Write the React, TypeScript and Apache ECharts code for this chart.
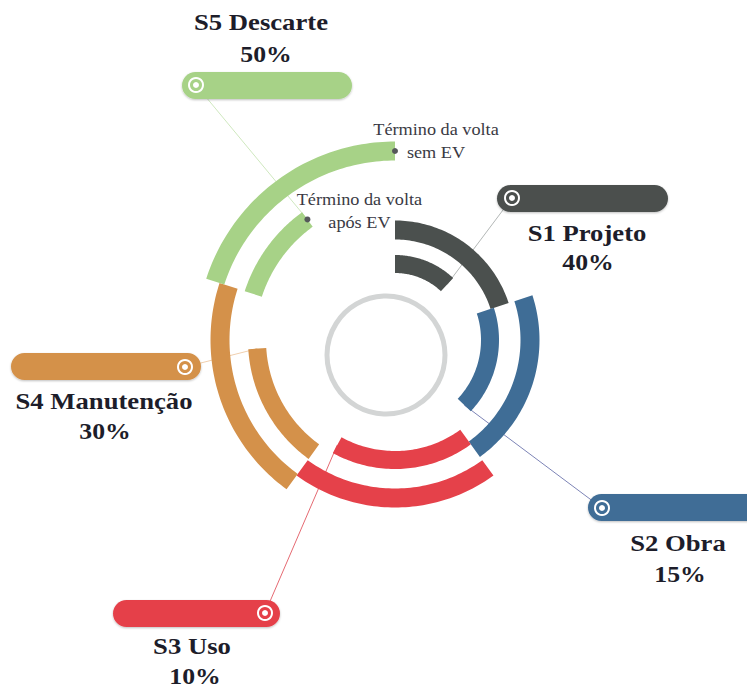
import React, { useEffect, useRef } from 'react';
import * as echarts from 'echarts';

// ---- data ----
const stages = ['S1 Projeto', 'S2 Obra', 'S3 Uso', 'S4 Manutenção', 'S5 Descarte'];
const reductions = [40, 15, 10, 30, 50]; // % reduction after EV
const stageColors = ['#4b504e', '#3f6d96', '#e5414a', '#d4914a', '#a7d287'];
const lineColors = ['#b3b7b6', '#7d84b6', '#e56a72', '#f0cfae', '#cfe8bf'];
const ringSemEV = [110, 135, 158, 175, 189]; // radial level of each stage (full turn, without EV)
const ringAposEV = [76, 95, 120, 138, 149]; // radial level of each stage (after EV)
const stageSweep = [72, 72, 72, 72, 72]; // degrees per stage in a full turn

// ---- layout (pixels) ----
const CENTER: [number, number] = [395, 340];
const pills = [
  { x: 497, y: 185, w: 171, icon: [512, 198], name: [587, 233], pct: [588, 262] },
  { x: 588, y: 494, w: 175, icon: [602, 508], name: [678, 543], pct: [680, 574] },
  { x: 113, y: 600, w: 167, icon: [265, 613], name: [192, 646], pct: [195, 676] },
  { x: 11, y: 353, w: 190, icon: [185, 367], name: [104, 401], pct: [105, 431] },
  { x: 182, y: 72, w: 170, icon: [196, 85], name: [261, 22], pct: [266, 54] },
];
const SERIF = '"Liberation Serif", "DejaVu Serif", serif';

export default function App() {
  const ref = useRef<HTMLDivElement>(null);
  useEffect(() => {
    if (!ref.current) return;
    const chart = echarts.init(ref.current, null, { renderer: 'svg' });

    const starts: number[] = [];
    let acc = 0;
    stageSweep.forEach((s) => { starts.push(acc); acc += s; });

    const outerData = stages.map((_, i) => [ringSemEV[i], starts[i], starts[i] + stageSweep[i], i]);
    const innerData = stages.map((_, i) => [
      ringAposEV[i], starts[i], starts[i] + stageSweep[i] * (1 - reductions[i] / 100), i,
    ]);

    const arcRender = (thick: number) => (params: any, api: any) => {
      const r = api.value(0);
      const a0 = api.value(1);
      const a1 = api.value(2);
      const idx = api.value(3);
      const h = thick / 2;
      const N = 60;
      const pts: number[][] = [];
      for (let k = 0; k <= N; k++) pts.push(api.coord([r + h, a0 + ((a1 - a0) * k) / N]));
      for (let k = N; k >= 0; k--) pts.push(api.coord([r - h, a0 + ((a1 - a0) * k) / N]));
      return { type: 'polygon', shape: { points: pts }, style: { fill: stageColors[idx] } };
    };

    const graphics: any[] = [
      {
        type: 'circle', shape: { cx: 386, cy: 355, r: 59 },
        style: { fill: 'none', stroke: '#d3d5d5', lineWidth: 5 }, z: 1,
      },
    ];
    pills.forEach((p, i) => {
      graphics.push({
        type: 'rect', shape: { x: p.x, y: p.y, width: p.w, height: 27, r: 13.5 },
        style: { fill: stageColors[i], shadowBlur: 2, shadowColor: 'rgba(0,0,0,0.25)', shadowOffsetY: 1 }, z: 10,
      });
      graphics.push({
        type: 'circle', shape: { cx: p.icon[0], cy: p.icon[1], r: 7 },
        style: { fill: 'none', stroke: '#ffffff', lineWidth: 2 }, z: 11,
      });
      graphics.push({
        type: 'circle', shape: { cx: p.icon[0], cy: p.icon[1], r: 3 },
        style: { fill: '#ffffff' }, z: 11,
      });
      graphics.push({
        type: 'text', x: p.name[0], y: p.name[1], scaleX: 1.16,
        style: { text: stages[i], fill: '#1d1d2a', font: `bold 23px ${SERIF}`, textAlign: 'center', textVerticalAlign: 'middle' }, z: 11,
      });
      graphics.push({
        type: 'text', x: p.pct[0], y: p.pct[1], scaleX: 1.12,
        style: { text: reductions[i] + '%', fill: '#1d1d2a', font: `bold 23px ${SERIF}`, textAlign: 'center', textVerticalAlign: 'middle' }, z: 11,
      });
    });

    const endMarkers = [
      { r: ringSemEV[4], a: starts[4] + stageSweep[4], text: 'Término da volta\nsem EV', dx: 41, dy: -10 },
      { r: ringAposEV[4], a: starts[4] + stageSweep[4] * (1 - reductions[4] / 100), text: 'Término da volta\napós EV', dx: 52, dy: -8 },
    ];

    chart.setOption({
      animation: false,
      backgroundColor: '#ffffff',
      polar: { center: CENTER, radius: 200 },
      angleAxis: {
        type: 'value', min: 0, max: 360, startAngle: 90, clockwise: true, show: false,
        axisLine: { show: false }, splitLine: { show: false }, axisLabel: { show: false }, axisTick: { show: false },
      },
      radiusAxis: {
        type: 'value', min: 0, max: 200, show: false,
        axisLine: { show: false }, splitLine: { show: false }, axisLabel: { show: false }, axisTick: { show: false },
      },
      graphic: graphics,
      series: [
        {
          type: 'custom', coordinateSystem: 'polar', z: 2, silent: true,
          data: innerData.map((d) => [d[0], d[2], d[3]]),
          renderItem: (params: any, api: any) => {
            const idx = api.value(2);
            const p = api.coord([api.value(0), api.value(1)]);
            const ic = pills[idx].icon;
            return {
              type: 'line', shape: { x1: ic[0], y1: ic[1], x2: p[0], y2: p[1] },
              style: { stroke: lineColors[idx], lineWidth: 1 },
            };
          },
        },
        {
          type: 'custom', coordinateSystem: 'polar', z: 3, silent: true,
          data: outerData, renderItem: arcRender(19),
        },
        {
          type: 'custom', coordinateSystem: 'polar', z: 3, silent: true,
          data: innerData, renderItem: arcRender(18),
        },
        {
          type: 'custom', coordinateSystem: 'polar', z: 4, silent: true,
          data: endMarkers.map((m, i) => [m.r, m.a, i]),
          renderItem: (params: any, api: any) => {
            const m = endMarkers[api.value(2)];
            const p = api.coord([api.value(0), api.value(1)]);
            return {
              type: 'group',
              children: [
                { type: 'circle', shape: { cx: p[0], cy: p[1], r: 3 }, style: { fill: '#55585a' } },
                {
                  type: 'text', x: p[0] + m.dx, y: p[1] + m.dy, scaleX: 1.14,
                  style: {
                    text: m.text, fill: '#3a3a44', font: `16px ${SERIF}`, lineHeight: 23,
                    textAlign: 'center', textVerticalAlign: 'middle',
                  },
                },
              ],
            };
          },
        },
      ],
    });
    return () => chart.dispose();
  }, []);
  return <div ref={ref} style={{ position: 'absolute', left: 0, top: 0, width: 747, height: 689 }} />;
}
